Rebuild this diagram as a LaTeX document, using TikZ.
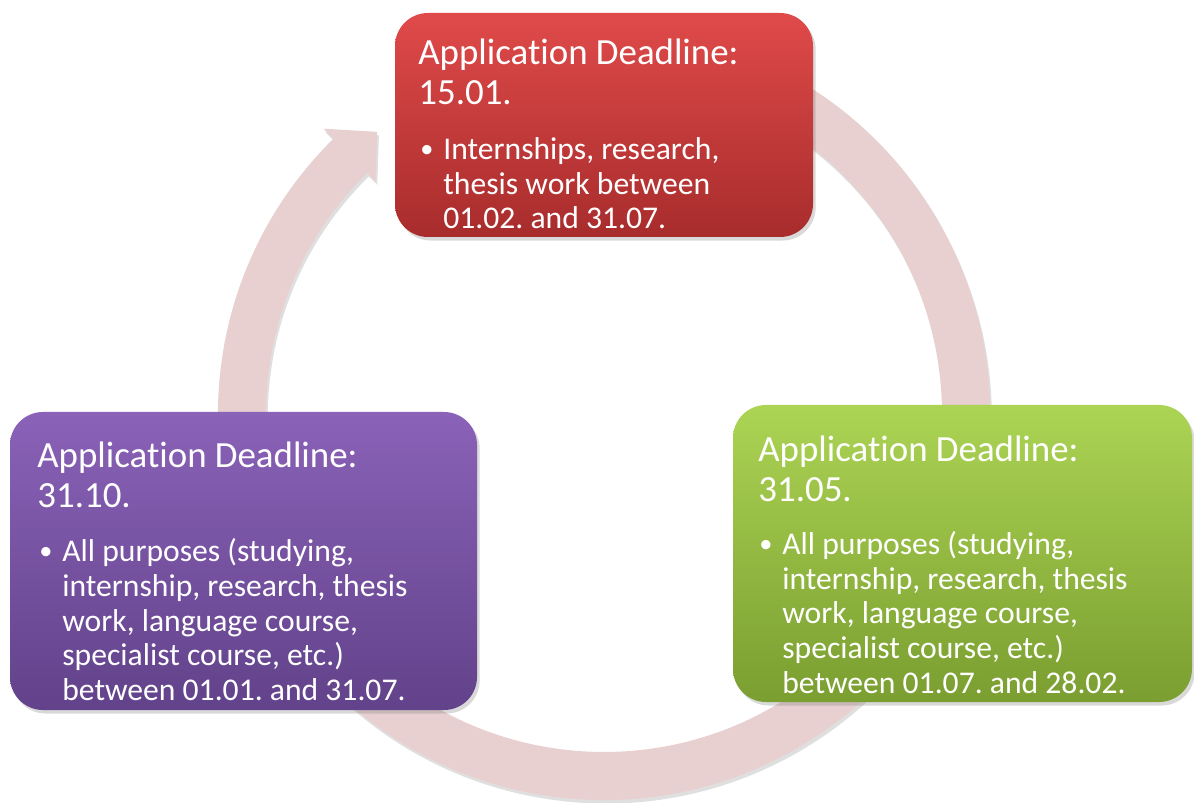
\documentclass[tikz,border=0pt]{standalone}
\usepackage{fontspec}
\setmainfont{Carlito}[Ligatures=NoCommon]
\usepackage{tikz}
\usetikzlibrary{shadows}
\frenchspacing

\definecolor{ringpink}{RGB}{232,207,208}
\definecolor{redtop}{RGB}{224,74,74}
\definecolor{redbot}{RGB}{168,44,44}
\definecolor{greentop}{RGB}{172,212,84}
\definecolor{greenbot}{RGB}{122,158,48}
\definecolor{purpletop}{RGB}{138,98,184}
\definecolor{purplebot}{RGB}{98,66,138}

\begin{document}
\begin{tikzpicture}[x=0.02cm,y=0.02cm,
  box/.style={rectangle,rounded corners=0.66cm,inner sep=0pt,
    drop shadow={opacity=0.3,shadow xshift=1.5pt,shadow yshift=-2pt}},
  head/.style={anchor=base west,inner sep=0pt,text=white,font=\fontsize{21}{24}\selectfont},
  body/.style={anchor=base west,inner sep=0pt,text=white,font=\fontsize{18}{21}\selectfont},
  dot/.style={anchor=base west,inner sep=0pt,text=white,font=\fontsize{15}{18}\selectfont}]
\useasboundingbox (0,0) rectangle (1194,802);

\fill[ringpink,drop shadow={opacity=0.25,shadow xshift=1pt,shadow yshift=-2pt},shift={(604,388)}]
  (80:386) arc[start angle=80,end angle=-225.5,radius=386] -- (-225.5:400) -- (-231.2:362)
  -- (-225.5:326) -- (-225.5:338) arc[start angle=-225.5,end angle=80,radius=338] -- cycle ;

\node[box,top color=redtop,bottom color=redbot,minimum width=418*0.02cm,minimum height=224*0.02cm] (jan) at (604,677) {} ;
\node[box,top color=greentop,bottom color=greenbot,minimum width=459*0.02cm,minimum height=297*0.02cm] (may) at (962.5,248.5) {} ;
\node[box,top color=purpletop,bottom color=purplebot,minimum width=467*0.02cm,minimum height=298*0.02cm] (oct) at (243.5,241) {} ;

\foreach \t [count=\i] in {Application Deadline:,15.01.}
  \node[head] (janhead\i) at (418,777-40*\i) {\t} ;
\node[dot] (janbullet) at (420,644) {•} ;
\foreach \t [count=\i] in {{Internships, research,},{thesis work between},{01.02. and 31.07.}}
  \node[body] (janline\i) at (443,676.5-34.5*\i) {\t} ;

\foreach \t [count=\i] in {Application Deadline:,31.05.}
  \node[head] (mayhead\i) at (758,380-40*\i) {\t} ;
\node[dot] (maybullet) at (759,249) {•} ;
\foreach \t [count=\i] in {{All purposes (studying,},{internship, research, thesis},{work, language course,},{specialist course, etc.)},{between 01.07. and 28.02.}}
  \node[body] (mayline\i) at (782,281.5-34.5*\i) {\t} ;

\foreach \t [count=\i] in {Application Deadline:,31.10.}
  \node[head] (octhead\i) at (37,374-40*\i) {\t} ;
\node[dot] (octbullet) at (39,242) {•} ;
\foreach \t [count=\i] in {{All purposes (studying,},{internship, research, thesis},{work, language course,},{specialist course, etc.)},{between 01.01. and 31.07.}}
  \node[body] (octline\i) at (62,274.5-34.5*\i) {\t} ;

\end{tikzpicture}
\end{document}
